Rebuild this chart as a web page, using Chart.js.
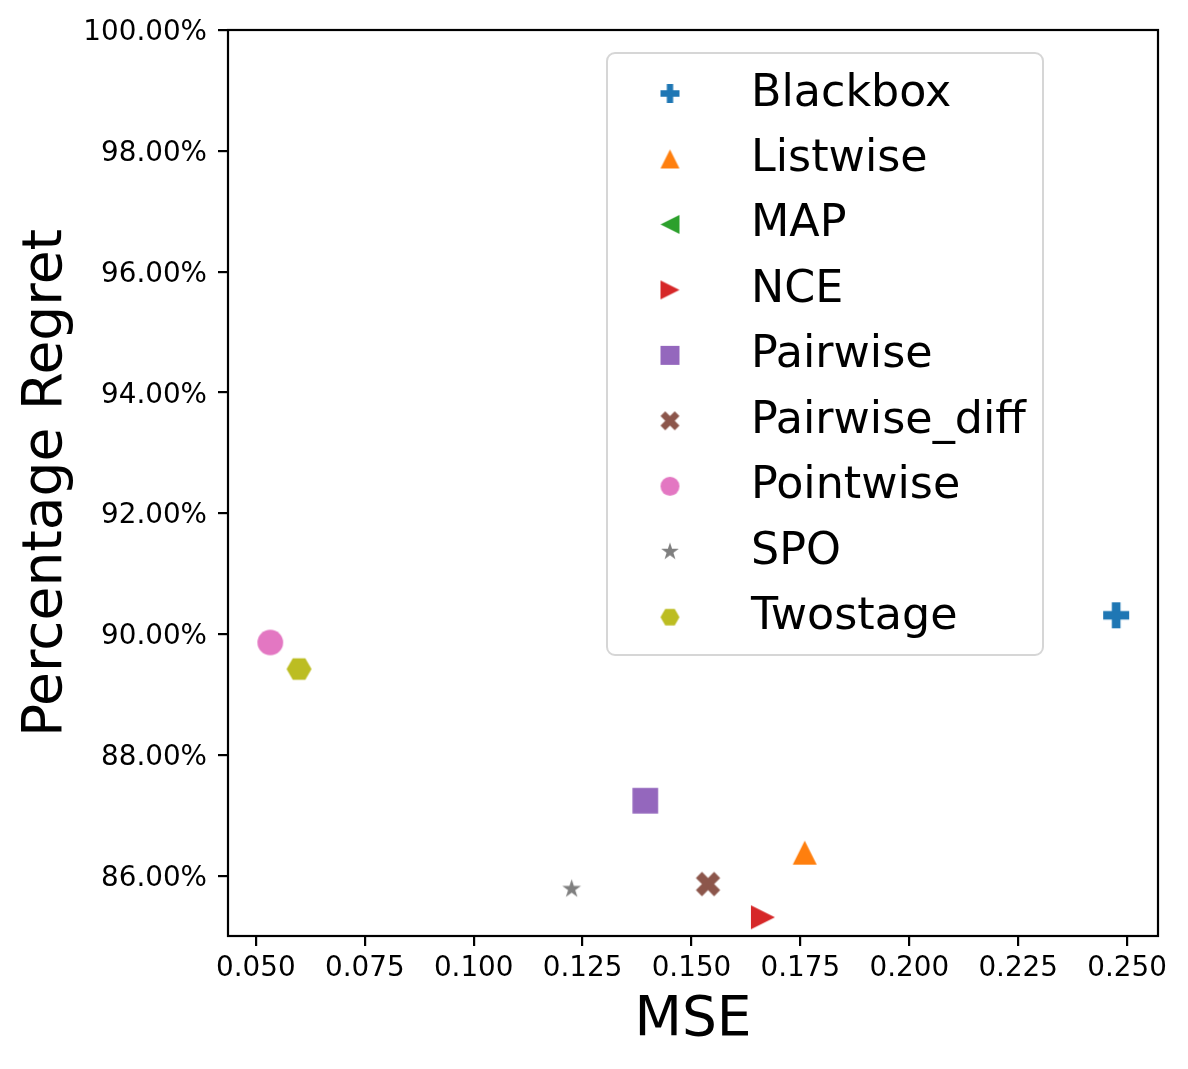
<!DOCTYPE html>
<html>
<head>
<meta charset="utf-8">
<script src="https://cdn.jsdelivr.net/npm/chart.js@4.4.1/dist/chart.umd.min.js"></script>
<style>
  html, body { margin: 0; padding: 0; background: #fff; }
  #wrap { width: 1188px; height: 1069px; }
</style>
</head>
<body>
<div id="wrap"><canvas id="scatter" width="1188" height="1069"></canvas></div>
<script>
// ─────────────────────────────────────────────
//  Data
// ─────────────────────────────────────────────
const methods      = ['Blackbox', 'Listwise', 'MAP', 'NCE', 'Pairwise', 'Pairwise_diff', 'Pointwise', 'SPO', 'Twostage'];
const mseValues    = [0.2475, 0.1760, null, 0.1664, 0.1394, 0.1538, 0.0533, 0.1225, 0.0599];
const regretValues = [90.31, 86.38, null, 85.31, 87.24, 85.86, 89.86, 85.78, 89.42];   // MAP not visible in plot

const xTicks = [0.050, 0.075, 0.100, 0.125, 0.150, 0.175, 0.200, 0.225, 0.250];
const yTicks = [86, 88, 90, 92, 94, 96, 98, 100];

// matplotlib tab10 colours + marker shape per method
const colors     = ['#1f77b4', '#ff7f0e', '#2ca02c', '#d62728', '#9467bd', '#8c564b', '#e377c2', '#7f7f7f', '#bcbd22'];
const shapes     = ['plus', 'triUp', 'triLeft', 'triRight', 'square', 'x', 'circle', 'star', 'hexagon'];
const plotSize   = [26, 24, 24, 24, 25.7, 24.3, 25.7, 18.7, 25];
const legendSize = [19, 19, 19, 19, 19, 19, 19, 17.7, 19];

const FONT = "'DejaVu Sans', 'Liberation Sans', sans-serif";

// ─────────────────────────────────────────────
//  Filled marker images (Chart.js has no filled plus / X / star / hexagon)
// ─────────────────────────────────────────────
function makeMarker(shape, color, w) {
  const pad = 2;
  const c = document.createElement('canvas');
  c.width = c.height = Math.ceil(w) + pad * 2;
  const ctx = c.getContext('2d');
  const m = c.width / 2, r = w / 2;
  const poly = pts => pts.forEach(([px, py], i) => {
    if (i === 0) ctx.moveTo(m + px * r, m + py * r);
    else ctx.lineTo(m + px * r, m + py * r);
  });
  ctx.fillStyle = color;
  ctx.beginPath();
  switch (shape) {
    case 'plus': {
      const a = 1 / 3;
      poly([[-a,-1],[a,-1],[a,-a],[1,-a],[1,a],[a,a],[a,1],[-a,1],[-a,a],[-1,a],[-1,-a],[-a,-a]]);
      break;
    }
    case 'x':
      poly([[-1,-2],[0,-1],[1,-2],[2,-1],[1,0],[2,1],[1,2],[0,1],[-1,2],[-2,1],[-1,0],[-2,-1]].map(([a, b]) => [a / 2, b / 2]));
      break;
    case 'triUp':    poly([[0,-1],[1,1],[-1,1]]); break;
    case 'triLeft':  poly([[-1,0],[1,-1],[1,1]]); break;
    case 'triRight': poly([[1,0],[-1,-1],[-1,1]]); break;
    case 'square':   poly([[-1,-1],[1,-1],[1,1],[-1,1]]); break;
    case 'circle':   ctx.arc(m, m, r, 0, Math.PI * 2); break;
    case 'star': {
      const R = 1 / Math.sin(Math.PI * 2 / 5);
      const pts = [];
      for (let k = 0; k < 10; k++) {
        const ang = -Math.PI / 2 + k * Math.PI / 5;
        const rr = k % 2 ? R * 0.381966 : R;
        pts.push([rr * Math.cos(ang), rr * Math.sin(ang)]);
      }
      poly(pts);
      break;
    }
    case 'hexagon': {
      const pts = [];
      for (let k = 0; k < 6; k++) pts.push([Math.cos(k * Math.PI / 3), Math.sin(k * Math.PI / 3)]);
      poly(pts);
      break;
    }
  }
  ctx.closePath();
  ctx.fill();
  return c;
}

// ─────────────────────────────────────────────
//  Plugins: legend inside the axes + full spine frame
// ─────────────────────────────────────────────
const insideLegend = {
  id: 'insideLegend',
  afterDatasetsDraw(chart) {
    const { ctx, chartArea: a } = chart;
    const bx = a.left + 379, by = a.top + 23, bw = 436, bh = 602, rad = 8;
    ctx.save();
    ctx.beginPath();
    ctx.moveTo(bx + rad, by);
    ctx.arcTo(bx + bw, by, bx + bw, by + bh, rad);
    ctx.arcTo(bx + bw, by + bh, bx, by + bh, rad);
    ctx.arcTo(bx, by + bh, bx, by, rad);
    ctx.arcTo(bx, by, bx + bw, by, rad);
    ctx.closePath();
    ctx.fillStyle = 'rgba(255,255,255,0.8)';
    ctx.fill();
    ctx.lineWidth = 2;
    ctx.strokeStyle = 'rgba(204,204,204,0.8)';
    ctx.stroke();

    ctx.font = `44.4px ${FONT}`;
    ctx.fillStyle = '#000';
    ctx.textAlign = 'left';
    ctx.textBaseline = 'alphabetic';
    chart.data.datasets.forEach((ds, i) => {
      const cy = by + 40.5 + i * 65.46;
      const img = ds.legendMarker;
      ctx.drawImage(img, bx + 63 - img.width / 2, cy - img.height / 2);
      ctx.fillText(ds.label, bx + 144, cy + 12);
    });
    ctx.restore();
  },
};

const frame = {
  id: 'frame',
  afterDraw(chart) {
    const { ctx, chartArea: a } = chart;
    ctx.save();
    ctx.lineWidth = 2.2;
    ctx.strokeStyle = '#000';
    ctx.strokeRect(a.left, a.top, a.right - a.left, a.bottom - a.top);
    ctx.restore();
  },
};

// ─────────────────────────────────────────────
//  Chart
// ─────────────────────────────────────────────
const datasets = methods.map((name, i) => ({
  label: name,
  data: mseValues[i] == null ? [] : [{ x: mseValues[i], y: regretValues[i] }],
  pointStyle: makeMarker(shapes[i], colors[i], plotSize[i]),
  legendMarker: makeMarker(shapes[i], colors[i], legendSize[i]),
  backgroundColor: colors[i],
  borderColor: colors[i],
  pointRadius: plotSize[i] / 2,
}));

const axisGrid = { drawOnChartArea: false, drawTicks: true, tickLength: 10, color: '#000', lineWidth: 2.2 };

new Chart(document.getElementById('scatter'), {
  type: 'scatter',
  data: { datasets },
  options: {
    responsive: false,
    devicePixelRatio: 1,
    animation: false,
    events: [],
    layout: { padding: { top: 30, right: 30, bottom: 0, left: 0 } },
    plugins: {
      legend:  { display: false },
      tooltip: { enabled: false },
    },
    scales: {
      x: {
        type: 'linear',
        position: 'bottom',
        min: 0.0436,
        max: 0.2571,
        afterBuildTicks: s => { s.ticks = xTicks.map(v => ({ value: v })); },
        afterFit: s => { s.height = 133; },
        grid: axisGrid,
        border: { display: false },
        ticks: {
          color: '#000', padding: 6, maxRotation: 0, autoSkip: false,
          font: { family: FONT, size: 27.8, lineHeight: 1.2 },
          callback: v => Number(v).toFixed(3),
        },
        title: {
          display: true, text: 'MSE', color: '#000',
          font: { family: FONT, size: 55, lineHeight: 1 },
          padding: { top: 0, bottom: 21 },
        },
      },
      y: {
        type: 'linear',
        position: 'left',
        min: 85,
        max: 100,
        afterBuildTicks: s => { s.ticks = yTicks.map(v => ({ value: v })); },
        afterFit: s => { s.width = 228; },
        grid: axisGrid,
        border: { display: false },
        ticks: {
          color: '#000', padding: 11, autoSkip: false, labelOffset: 3,
          font: { family: FONT, size: 27.8, lineHeight: 1.2 },
          callback: v => Number(v).toFixed(2) + '%',
        },
        title: {
          display: true, text: 'Percentage Regret', color: '#000',
          font: { family: FONT, size: 55, lineHeight: 1 },
          padding: { top: 19, bottom: 0 },
        },
      },
    },
  },
  plugins: [insideLegend, frame],
});
</script>
</body>
</html>
